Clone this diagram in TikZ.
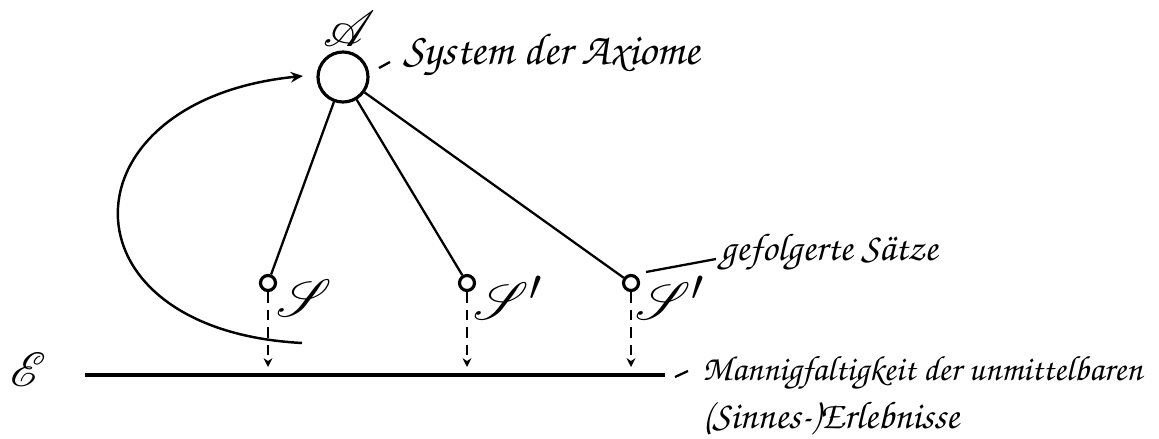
\documentclass[tikz,border=0pt]{standalone}
\usepackage[T1,TU]{fontenc}
\usepackage{mathrsfs}
\usetikzlibrary{arrows.meta}
\newcommand\chancery{\fontencoding{T1}\fontfamily{pzc}\fontseries{mb}\fontshape{it}\selectfont}
\newcommand\bigscr[1]{\fontsize{24.88}{26}\selectfont$\mathscr{#1}$}
\begin{document}
\begin{tikzpicture}[>={Stealth[length=7pt, width=6pt]}, x=.02cm, y=-.02cm]
\tikzset{knot/.style={draw, circle, line width=1.8pt, inner sep=0pt, minimum size=#1},
  remark/.style={anchor=base west, inner sep=0pt, font=\chancery\fontsize{#1}{#1}\selectfont}}
\useasboundingbox (0,0) rectangle (1159,439);

\node[knot=1cm](A) at (343,77){};
\node[scale=1.15, inner sep=0pt](Alab) at (349,29){\bigscr{A}};
\node[knot=.3cm](s1) at (268,283){};
\node[knot=.3cm](s2) at (467,283){};
\node[knot=.3cm](s3) at (631,283){};
\node[scale=1.2](l1) at (304,298){\bigscr{S}};
\node[scale=1.2](l2) at (508,298){\bigscr{S}$'$};
\node[scale=1.2](l3) at (670,298){\bigscr{S}$'$};
\draw[line width=1.3pt](A)--(s1) (A)--(s2) (A)--(s3);

\coordinate(e1) at (85,375); \coordinate(e2) at (665,375);
\draw[line width=2.2pt](e1)--(e2);
\node[scale=1.1](E) at (28,370){\bigscr{E}};
\foreach \i/\x in {1/268,2/467,3/631}{
  \coordinate(t\i) at (\x,367);
  \draw[-{Stealth[length=5pt, width=5pt]}, line width=1.5pt, dash pattern=on 6pt off 4pt](s\i)--(t\i);
}

\coordinate(tip) at (303,76);
\draw[->, line width=1.4pt](302,343)..controls(55,330) and (60,100)..(tip);

\node[remark=25.5](sys) at (403,65){System der Axiome};
\coordinate(d1) at (379,68); \coordinate(d2) at (390,62);
\draw[line width=1.3pt](d1)--(d2);
\node[remark=22](gef) at (720,260){gefolgerte S\"atze};
\coordinate(d3) at (646,272); \coordinate(d4) at (716,259);
\draw[line width=1.3pt](d3)--(d4);
\node[remark=20](man) at (702,380){Mannigfaltigkeit der unmittelbaren};
\node[remark=22](erl) at (702,428){(Sinnes-)Erlebnisse};
\coordinate(d5) at (675,377); \coordinate(d6) at (688,371);
\draw[line width=1.3pt](d5)--(d6);
\end{tikzpicture}
\end{document}
